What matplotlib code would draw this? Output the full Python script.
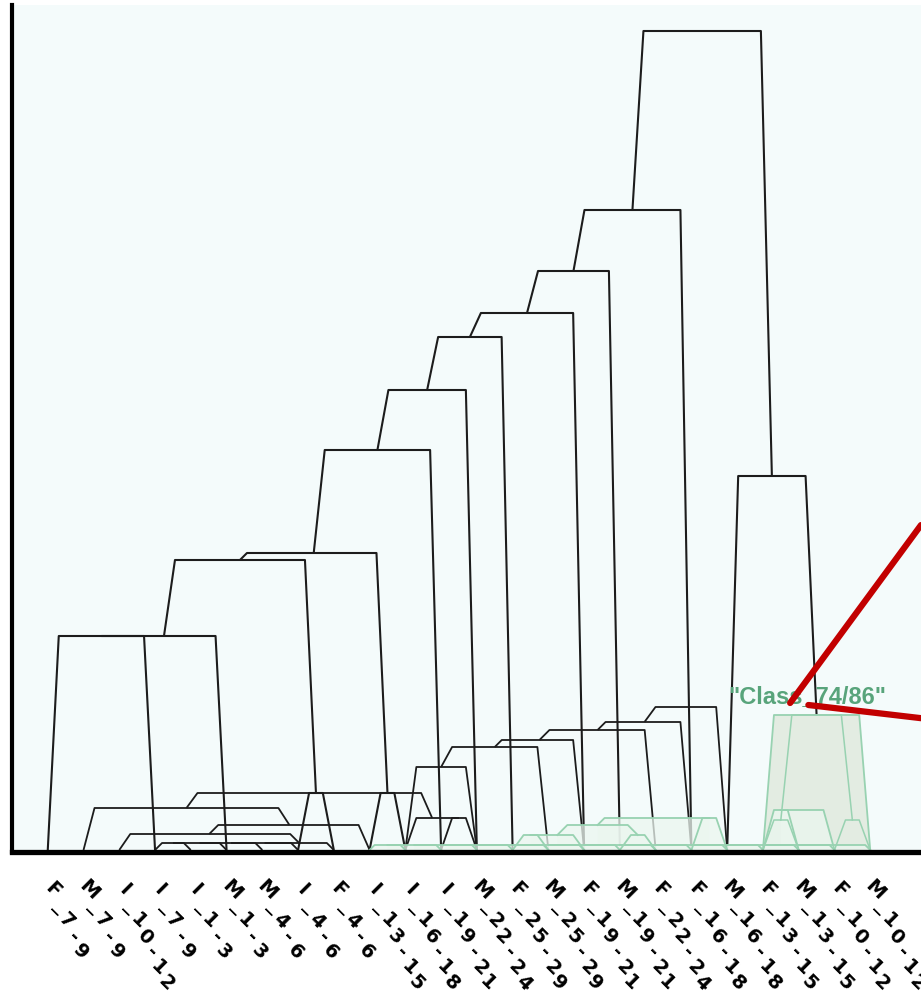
import numpy as np
import matplotlib.pyplot as plt
from matplotlib.transforms import blended_transform_factory, ScaledTranslation

leaf_labels = ['F_7-9', 'M_7-9', 'I_10-12', 'I_7-9', 'I_1-3', 'M_1-3', 'M_4-6',
               'I_4-6', 'F_4-6', 'I_13-15', 'I_16-18', 'I_19-21', 'M_22-24',
               'F_25-29', 'M_25-29', 'F_19-21', 'M_19-21', 'F_22-24', 'F_16-18',
               'M_16-18', 'F_13-15', 'M_13-15', 'F_10-12', 'M_10-12']
N = len(leaf_labels)

# merges as (left id, right id, height); ids >= N point at earlier merges
main_links = [
    (0, 3, 2.14), (24, 5, 2.14), (7, 8, 0.57), (25, 26, 2.90), (9, 10, 0.57),
    (27, 28, 2.97), (29, 11, 4.00), (30, 12, 4.60), (31, 13, 5.13),
    (32, 15, 5.37), (33, 16, 5.79), (34, 18, 6.40),
    (20, 21, 0.30), (22, 23, 0.30), (36, 37, 1.35),
    (19, 38, 3.74), (35, 39, 8.19),
]
class_node = 38
class_name = '"Class_74/86"'

back_links = [
    (3, 4, 0.07), (24, 5, 0.07), (25, 6, 0.07), (26, 7, 0.07), (27, 8, 0.07),
    (2, 28, 0.16), (29, 9, 0.25), (1, 30, 0.42), (11, 12, 0.32),
    (10, 32, 0.32), (31, 33, 0.57),
]
mid_links = [
    (10, 12, 0.83), (24, 14, 1.03), (25, 15, 1.10), (26, 17, 1.20),
    (27, 18, 1.28), (28, 19, 1.43),
]
green_base_links = [
    (9, 10, 0.05), (24, 11, 0.05), (25, 12, 0.05), (26, 13, 0.05),
    (27, 14, 0.05), (28, 15, 0.05), (29, 16, 0.05), (30, 17, 0.05),
    (31, 18, 0.05), (32, 19, 0.05), (33, 20, 0.05), (34, 21, 0.05),
    (35, 22, 0.05), (36, 23, 0.05),
]
green_links = [
    (13, 14, 0.15), (24, 15, 0.15), (16, 17, 0.15), (25, 26, 0.25),
    (18, 19, 0.32), (27, 28, 0.32), (20, 21, 0.40), (30, 22, 0.40),
]

BLACK = '#1c1c1c'
GREEN = '#98d2b1'
GREEN_FILL = '#ebf6ef'
CLASS_FILL = '#e3ece2'
CLASS_TEXT = '#58a47b'
RED = '#c20000'

fig = plt.figure(figsize=(9.21, 10.07), dpi=100)
fig.patch.set_facecolor('white')
ax = fig.add_axes([12 / 921, 1 - 852 / 1007, 1 - 12 / 921, 847 / 1007])
ax.set_facecolor('#f4fbfb')
ax.set_xlim(-1.0, 24.42)
ax.set_ylim(-0.02, 8.45)

# leg slant: ~11 px sideways, 45 degrees for short legs
px_x = 909 / 25.42
px_y = 847 / 8.47
inset = 11 / px_x
slope = px_y / px_x


def links_to_shapes(links):
    pos = [(float(i), 0.0) for i in range(N)]
    shapes = []
    for a, b, h in links:
        (xa, ha), (xb, hb) = pos[a], pos[b]
        room = (xb - xa) / 3
        da = min(inset, slope * (h - ha), room)
        db = min(inset, slope * (h - hb), room)
        shapes.append(([xa, xa + da, xb - db, xb], [ha, h, h, hb]))
        pos.append(((xa + xb) / 2, h))
    return shapes, pos


def subtree(links, node):
    if node < N:
        return [node], []
    a, b, _ = links[node - N]
    la, ma = subtree(links, a)
    lb, mb = subtree(links, b)
    return la + lb, ma + mb + [node - N]


# black layers behind the main tree
for links in (back_links, mid_links):
    shapes, _ = links_to_shapes(links)
    for xs, ys in shapes:
        ax.plot(xs, ys, color=BLACK, lw=1.3, zorder=2, solid_capstyle='butt')

main_shapes, main_pos = links_to_shapes(main_links)
class_leaves, class_merges = subtree(main_links, class_node)
for k, (xs, ys) in enumerate(main_shapes):
    if k in class_merges:
        continue
    ax.plot(xs, ys, color=BLACK, lw=1.5, zorder=3, solid_capstyle='butt')

# highlighted class as a shaded block
cx, ch = main_pos[class_node]
x0, x1 = min(class_leaves), max(class_leaves)
block_x = [x0, x0 + inset, x1 - inset, x1]
block_y = [0, ch, ch, 0]
ax.fill(block_x, block_y, color=CLASS_FILL, zorder=3.5, lw=0)
ax.plot(block_x, block_y, color=GREEN, lw=1.3, zorder=4.6)
for k in class_merges:
    xs, ys = main_shapes[k]
    ax.plot(xs, ys, color=GREEN, lw=1.1, zorder=4.5)

# green lower layers
for links in (green_links, green_base_links):
    shapes, _ = links_to_shapes(links)
    for xs, ys in shapes:
        fx = [xs[0]] + xs + [xs[-1]]
        fy = [0] + ys + [0]
        ax.fill(fx, fy, color=GREEN_FILL, alpha=0.75, lw=0, zorder=4)
        ax.plot(xs, ys, color=GREEN, lw=1.3, zorder=4.2)

ax.text(cx - 0.27, ch + 0.18, class_name, color=CLASS_TEXT, fontsize=17,
        fontweight='bold', family='Liberation Sans', ha='center', va='center',
        zorder=6)
for start, end in (((cx - 0.74, ch + 0.12), (1.0, 0.386)),
                   ((cx - 0.23, ch + 0.10), (1.0, 0.158))):
    ax.annotate('', xy=end, xycoords='axes fraction', xytext=start,
                textcoords='data', annotation_clip=False, zorder=7,
                arrowprops=dict(arrowstyle='-', color=RED, lw=4.5,
                                shrinkA=0, shrinkB=0))

for side in ('top', 'right'):
    ax.spines[side].set_visible(False)
ax.spines['left'].set_linewidth(3)
ax.spines['bottom'].set_linewidth(3.8)
ax.spines['left'].set_zorder(8)
ax.spines['bottom'].set_zorder(8)
ax.set_xticks([])
ax.set_yticks([])

# leaf names: each glyph turned on its own, stepping down the slope
base = blended_transform_factory(ax.transData, ax.transAxes)
ang = np.deg2rad(66)
step = 17
for i, lab in enumerate(leaf_labels):
    for k, ch_ in enumerate(lab):
        ox = (5 + k * step * np.cos(ang)) / 100
        oy = -(38 + k * step * np.sin(ang)) / 100
        ax.text(i, 0, ch_, transform=base + ScaledTranslation(ox, oy, fig.dpi_scale_trans),
                rotation=-45, ha='center', va='center', fontsize=14,
                fontweight='bold', family='DejaVu Sans', clip_on=False)

fig.savefig('out.png', dpi=100, facecolor=fig.get_facecolor())
